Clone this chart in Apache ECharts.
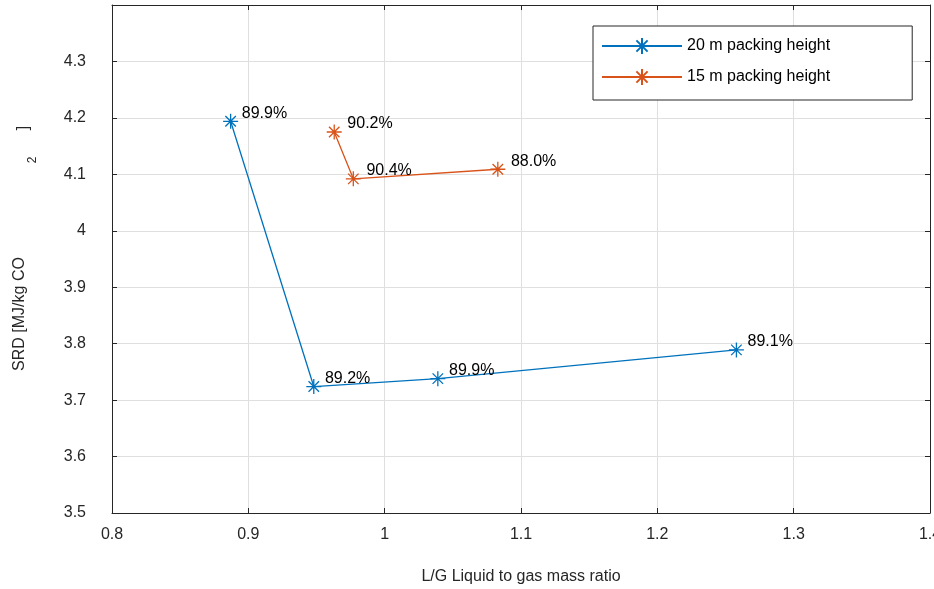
<!DOCTYPE html>
<html>
<head>
<meta charset="utf-8">
<style>
    html, body { margin: 0; padding: 0; background: #fff; }
    #chart { width: 934px; height: 589px; }
</style>
<script src="https://cdn.jsdelivr.net/npm/echarts@6/dist/echarts.min.js"></script>
</head>
<body>
<div id="chart"></div>
<script>
// data
const seriesNames = ['20 m packing height', '15 m packing height'];
const lg20 = [0.887, 0.948, 1.039, 1.258];
const srd20 = [4.194, 3.724, 3.738, 3.789];
const capture20 = ['89.9%', '89.2%', '89.9%', '89.1%'];
const lg15 = [0.963, 0.977, 1.083];
const srd15 = [4.175, 4.092, 4.109];
const capture15 = ['90.2%', '90.4%', '88.0%'];

const FONT = 'Liberation Sans, Arial, sans-serif';
const AX = '#262626';
const GRIDC = '#dfdfdf';
const STAR = 'path://M0,-10L0,10M-10,0L10,0M-7,-7L7,7M-7,7L7,-7';

function pts(xs, ys, labels) {
    return xs.map((x, i) => ({ value: [x, ys[i]], label: { formatter: labels[i] } }));
}

function fmtX(v) {
    return Math.round(v * 10) / 10 + '';
}
function fmtY(v) {
    // top of the box (4.4) carries no label in the figure
    if (v > 4.35) return '';
    return Math.round(v * 10) / 10 + '';
}

let myChart = echarts.init(document.getElementById('chart'));

const baseAxis = {
    axisLine: { show: true, onZero: false, lineStyle: { color: AX, width: 1 } },
    axisTick: { show: true, inside: true, length: 5, lineStyle: { color: AX } },
    minorTick: { show: false }
};

function seriesOf(name, xs, ys, labels, color, dist) {
    return {
        name: name,
        type: 'line',
        symbol: STAR,
        symbolSize: 15,
        showAllSymbol: true,
        lineStyle: { color: color, width: 1.3 },
        itemStyle: { color: 'rgba(0,0,0,0)', borderColor: color, borderWidth: 1.3 },
        label: {
            show: true,
            position: 'right',
            distance: dist,
            offset: [0, -8],
            fontSize: 16,
            color: '#000',
            fontFamily: FONT
        },
        emphasis: { disabled: true },
        data: pts(xs, ys, labels)
    };
}

myChart.setOption({
    animation: false,
    textStyle: { fontFamily: FONT },
    grid: {
        left: 112,
        right: 4,
        top: 5,
        bottom: 76,
        containLabel: false,
        outerBoundsMode: 'none'
    },
    legend: {
        left: 593,
        top: 26,
        orient: 'vertical',
        padding: [11, 82, 14, 8],
        itemGap: 13,
        itemWidth: 80,
        itemHeight: 20,
        backgroundColor: '#fff',
        borderColor: AX,
        borderWidth: 1,
        borderRadius: 0,
        textStyle: { fontSize: 16, color: '#000', fontFamily: FONT },
        data: seriesNames
    },
    xAxis: [
        Object.assign({}, baseAxis, {
            type: 'value',
            min: 0.8,
            max: 1.4,
            interval: 0.1,
            name: 'L/G Liquid to gas mass ratio',
            nameLocation: 'middle',
            nameGap: 56,
            nameTextStyle: { fontSize: 16, color: AX, fontFamily: FONT },
            axisLabel: { fontSize: 16, color: AX, margin: 14, formatter: fmtX },
            splitLine: { show: true, lineStyle: { color: GRIDC, width: 1 } }
        }),
        Object.assign({}, baseAxis, {
            type: 'value',
            position: 'top',
            min: 0.8,
            max: 1.4,
            interval: 0.1,
            axisLabel: { show: false },
            splitLine: { show: false }
        })
    ],
    yAxis: [
        Object.assign({}, baseAxis, {
            type: 'value',
            min: 3.5,
            max: 4.4,
            interval: 0.1,
            axisLabel: { fontSize: 16, color: AX, margin: 26, formatter: fmtY },
            splitLine: { show: true, lineStyle: { color: GRIDC, width: 1 } }
        }),
        Object.assign({}, baseAxis, {
            type: 'value',
            position: 'right',
            min: 3.5,
            max: 4.4,
            interval: 0.1,
            axisLabel: { show: false },
            splitLine: { show: false }
        })
    ],
    graphic: [
        {
            type: 'text',
            x: 20,
            y: 314,
            rotation: Math.PI / 2,
            style: {
                text: 'SRD [MJ/kg CO',
                fontSize: 16,
                fontFamily: FONT,
                fill: AX,
                textAlign: 'center',
                textVerticalAlign: 'middle'
            }
        },
        {
            type: 'text',
            x: 33,
            y: 160,
            rotation: Math.PI / 2,
            style: {
                text: '2',
                fontSize: 12,
                fontFamily: FONT,
                fill: AX,
                textAlign: 'center',
                textVerticalAlign: 'middle'
            }
        },
        {
            type: 'text',
            x: 24,
            y: 128,
            rotation: Math.PI / 2,
            style: {
                text: ']',
                fontSize: 16,
                fontFamily: FONT,
                fill: AX,
                textAlign: 'center',
                textVerticalAlign: 'middle'
            }
        }
    ],
    series: [
        seriesOf(seriesNames[0], lg20, srd20, capture20, '#0072BD', 3),
        seriesOf(seriesNames[1], lg15, srd15, capture15, '#D95319', 5)
    ]
});

window.addEventListener('resize', function () {
    myChart.resize();
});
</script>
</body>
</html>
